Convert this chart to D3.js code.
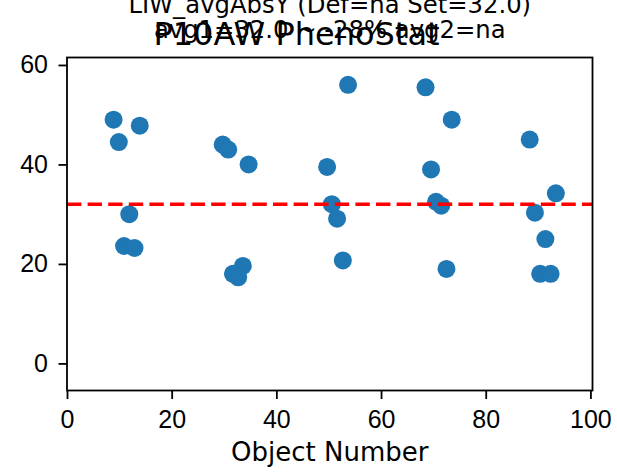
<!DOCTYPE html>
<html>
<head>
<meta charset="utf-8">
<title>P10AW PhenoStat</title>
<script src="https://cdn.jsdelivr.net/npm/d3@7"></script>
<style>
  body { margin: 0; background: #fff; }
  svg { display: block; font-family: "DejaVu Sans", sans-serif; }
  .axis path, .axis line { stroke: #000; stroke-width: 1.8px; }
  .axis text { font-size: 25px; fill: #000; }
</style>
</head>
<body>
<svg id="chart" width="617" height="473"></svg>
<script>
// values
const objectNumber = [8.9, 9.9, 13.9, 11.9, 10.9, 12.9, 29.75, 30.8, 34.7, 33.6, 31.7, 32.7,
                      49.7, 53.7, 50.6, 51.6, 52.7, 68.5, 73.5, 69.55, 70.5, 71.5, 72.5,
                      88.4, 93.4, 89.4, 91.4, 90.4, 92.4];
const avgAbsY = [49, 44.5, 47.8, 30, 23.6, 23.2, 44, 43, 40, 19.6, 18, 17.3,
                 39.5, 56, 32, 29.1, 20.7, 55.5, 49, 39, 32.5, 31.7, 19,
                 45, 34.2, 30.3, 25, 18, 18];
const setValue = 32.0;
const xTicks = [0, 20, 40, 60, 80, 100];
const yTicks = [0, 20, 40, 60];
const titleLines = ["LIW_avgAbsY (Def=na Set=32.0)", "avg1=32.0 ~ -28% avg2=na"];
const supTitle = "P10AW PhenoStat";
const xLabel = "Object Number";

const plotL = 67, plotR = 592.5, plotT = 57.5, plotB = 390.5;

const svg = d3.select("#chart");

const x = d3.scaleLinear().domain([0, 100.4]).range([plotL, plotR]);
const y = d3.scaleLinear().domain([-5.45, 61.5]).range([plotB, plotT]);

// points
svg.append("g")
  .selectAll("circle")
  .data(objectNumber.map((d, i) => ({ x: d, y: avgAbsY[i] })))
  .join("circle")
  .attr("cx", d => x(d.x))
  .attr("cy", d => y(d.y))
  .attr("r", 9)
  .attr("fill", "#1f77b4");

// set value line
svg.append("line")
  .attr("x1", plotL).attr("x2", plotR)
  .attr("y1", y(setValue)).attr("y2", y(setValue))
  .attr("stroke", "#ff0000")
  .attr("stroke-width", 3.6)
  .attr("stroke-dasharray", "14.4,6.2");

// axes
svg.append("g").attr("class", "axis")
  .attr("transform", "translate(0," + plotB + ")")
  .call(d3.axisBottom(x).tickValues(xTicks).tickSize(8.5).tickPadding(11).tickSizeOuter(0))
  .call(g => g.select(".domain").remove());
svg.append("g").attr("class", "axis")
  .attr("transform", "translate(" + plotL + ",0)")
  .call(d3.axisLeft(y).tickValues(yTicks).tickSize(8.5).tickPadding(10.5).tickSizeOuter(0))
  .call(g => g.select(".domain").remove());

// frame
svg.append("rect")
  .attr("x", plotL).attr("y", plotT)
  .attr("width", plotR - plotL).attr("height", plotB - plotT)
  .attr("fill", "none").attr("stroke", "#000").attr("stroke-width", 1.8);

// x label
svg.append("text")
  .attr("x", (plotL + plotR) / 2).attr("y", 461)
  .attr("text-anchor", "middle")
  .style("font-size", "26px")
  .text(xLabel);

// titles
svg.append("text")
  .attr("x", (plotL + plotR) / 2).attr("y", 13)
  .attr("text-anchor", "middle")
  .style("font-size", "24.3px")
  .text(titleLines[0]);
svg.append("text")
  .attr("x", (plotL + plotR) / 2).attr("y", 38)
  .attr("text-anchor", "middle")
  .style("font-size", "24.3px")
  .text(titleLines[1]);
svg.append("text")
  .attr("x", 296.5).attr("y", 45)
  .attr("text-anchor", "middle")
  .style("font-size", "32px")
  .text(supTitle);
</script>
</body>
</html>
